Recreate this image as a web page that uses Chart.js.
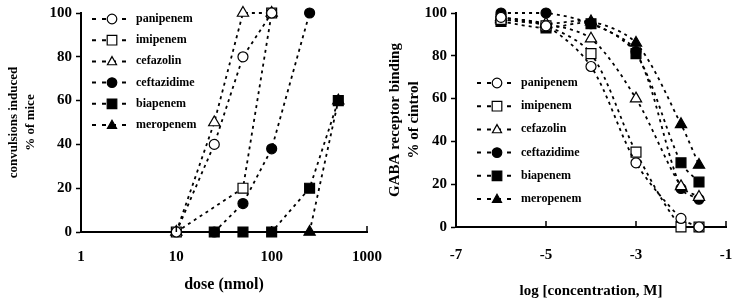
<!DOCTYPE html>
<html lang="en">
<head>
    <meta charset="UTF-8">
    <title>Convulsions and GABA receptor binding</title>
    <script src="https://cdn.jsdelivr.net/npm/chart.js"></script>
    <style>
        body { margin: 0; background: #fff; }
        .wrap { position: relative; width: 735px; height: 302px; }
        #leftBox { position: absolute; left: 0; top: 0; width: 390px; height: 302px; }
        #rightBox { position: absolute; left: 370px; top: 0; width: 365px; height: 302px; }
    </style>
</head>
<body>
<div class="wrap">
    <div id="leftBox"><canvas id="leftChart"></canvas></div>
    <div id="rightBox"><canvas id="rightChart"></canvas></div>
</div>

<script>
    // left panel: dose (nmol) vs % of mice with convulsions
    const seriesNames = ['panipenem', 'imipenem', 'cefazolin', 'ceftazidime', 'biapenem', 'meropenem'];

    const paniDose = [10, 25, 50, 100];
    const paniConv = [0, 40, 80, 100];
    const imiDose = [10, 50, 100];
    const imiConv = [0, 20, 100];
    const cefaDose = [10, 25, 50, 100];
    const cefaConv = [0, 50, 100, 100];
    const ceftDose = [25, 50, 100, 250];
    const ceftConv = [0, 13, 38, 100];
    const biaDose = [25, 50, 100, 250, 500];
    const biaConv = [0, 0, 0, 20, 60];
    const meroDose = [250, 500];
    const meroConv = [0, 60];

    const doseTicks = [1, 10, 100, 1000];

    // right panel: log concentration vs GABA receptor binding (% of control)
    const logConc = [-6, -5, -4, -3, -2, -1.6];
    const paniBind = [98, 94, 75, 30, 4, 0];
    const imiBind = [97, 94, 81, 35, 0, 0];
    const cefaBind = [98, 95, 88, 60, 19, 14];
    const ceftBind = [100, 100, 95, 82, 18, 13];
    const biaBind = [96, 93, 95, 81, 30, 21];
    const meroBind = [97, 95, 96, 86, 48, 29];

    const FONT = '"Liberation Serif", "Times New Roman", serif';

    // marker look for each series, same order as seriesNames
    const markers = [
        { style: 'circle', fill: '#fff', r: 5 },
        { style: 'rect', fill: '#fff', r: 7 },
        { style: 'triangle', fill: '#fff', r: 6.5 },
        { style: 'circle', fill: '#000', r: 5 },
        { style: 'rect', fill: '#000', r: 7 },
        { style: 'triangle', fill: '#000', r: 6.5 }
    ];

    function pairs(xs, ys) {
        return xs.map((x, i) => ({ x: x, y: ys[i] }));
    }

    function makeSets(list, tension) {
        return list.map((pts, i) => ({
            label: seriesNames[i],
            data: pts,
            borderColor: '#000',
            borderWidth: 1.8,
            borderDash: [3, 4],
            pointStyle: markers[i].style,
            pointBackgroundColor: markers[i].fill,
            pointBorderColor: '#000',
            pointBorderWidth: 1.2,
            pointRadius: markers[i].r,
            tension: tension,
            clip: false
        }));
    }

    function drawMarker(ctx, style, fill, x, y, r) {
        ctx.beginPath();
        if (style === 'circle') {
            ctx.arc(x, y, r, 0, Math.PI * 2);
        } else if (style === 'rect') {
            ctx.rect(x - r, y - r, r * 2, r * 2);
        } else {
            ctx.moveTo(x, y - r);
            ctx.lineTo(x + r * 0.95, y + r * 0.7);
            ctx.lineTo(x - r * 0.95, y + r * 0.7);
            ctx.closePath();
        }
        ctx.fillStyle = fill;
        ctx.fill();
        ctx.lineWidth = 1.2;
        ctx.strokeStyle = '#000';
        ctx.stroke();
    }

    // legend drawn inside the plot area
    const boxLegend = {
        id: 'boxLegend',
        afterDatasetsDraw(chart, args, opts) {
            const ctx = chart.ctx;
            ctx.save();
            chart.data.datasets.forEach((ds, i) => {
                const y = opts.top + i * opts.gap;
                ctx.strokeStyle = '#000';
                ctx.lineWidth = 2;
                ctx.setLineDash([4, 6]);
                ctx.beginPath();
                ctx.moveTo(opts.left, y);
                ctx.lineTo(opts.left + 40, y);
                ctx.stroke();
                ctx.setLineDash([]);
                drawMarker(ctx, markers[i].style, markers[i].fill, opts.left + 20, y, 4.8);
                ctx.fillStyle = '#000';
                ctx.font = 'bold 12px ' + FONT;
                ctx.textBaseline = 'middle';
                ctx.fillText(ds.label, opts.left + 44, y);
            });
            ctx.restore();
        }
    };

    // small tick marks pointing up into the plot on the x axis
    const innerTicks = {
        id: 'innerTicks',
        afterDraw(chart) {
            const sx = chart.scales.x;
            const ctx = chart.ctx;
            ctx.save();
            ctx.strokeStyle = '#000';
            ctx.lineWidth = 1.5;
            sx.ticks.forEach(t => {
                const px = sx.getPixelForValue(t.value);
                ctx.beginPath();
                ctx.moveTo(px, sx.top);
                ctx.lineTo(px, sx.top - 6);
                ctx.stroke();
            });
            ctx.restore();
        }
    };

    function yAxis(titleLines, titleSize, titlePad, width) {
        return {
            min: 0,
            max: 100,
            ticks: { stepSize: 20, color: '#000', padding: 4, font: { family: FONT, size: 15, weight: 'bold' } },
            grid: { drawOnChartArea: false, tickLength: 5, tickWidth: 1.5, tickColor: '#000' },
            border: { color: '#000', width: 2 },
            title: {
                display: true,
                text: titleLines,
                color: '#000',
                padding: { top: titlePad, bottom: 4 },
                font: { family: FONT, size: titleSize, weight: 'bold', lineHeight: 1.25 }
            },
            afterFit(scale) { scale.width = width; }
        };
    }

    const leftSets = makeSets([
        pairs(paniDose, paniConv),
        pairs(imiDose, imiConv),
        pairs(cefaDose, cefaConv),
        pairs(ceftDose, ceftConv),
        pairs(biaDose, biaConv),
        pairs(meroDose, meroConv)
    ], 0);

    new Chart(document.getElementById('leftChart'), {
        type: 'line',
        data: { datasets: leftSets },
        plugins: [boxLegend, innerTicks],
        options: {
            responsive: true,
            maintainAspectRatio: false,
            animation: false,
            layout: { padding: { top: 12, right: 23, left: 0, bottom: 0 } },
            plugins: {
                legend: { display: false },
                tooltip: { enabled: false },
                boxLegend: { left: 92, top: 19, gap: 21.2 }
            },
            scales: {
                x: {
                    type: 'logarithmic',
                    min: 1,
                    max: 1000,
                    afterBuildTicks(scale) { scale.ticks = doseTicks.map(v => ({ value: v })); },
                    ticks: {
                        color: '#000',
                        padding: 16,
                        maxRotation: 0,
                        font: { family: FONT, size: 15, weight: 'bold' },
                        callback: v => String(v)
                    },
                    grid: { drawOnChartArea: false, drawTicks: false },
                    border: { color: '#000', width: 2 },
                    title: {
                        display: true,
                        text: 'dose (nmol)',
                        color: '#000',
                        padding: { top: 0, bottom: 8 },
                        font: { family: FONT, size: 16, weight: 'bold' }
                    },
                    afterFit(scale) {
                        scale.height = 70;
                        scale.paddingLeft = 0;
                        scale.paddingRight = 0;
                    }
                },
                y: yAxis(['convulsions induced', '% of mice'], 13, 6, 81)
            }
        }
    });

    const rightSets = makeSets([
        pairs(logConc, paniBind),
        pairs(logConc, imiBind),
        pairs(logConc, cefaBind),
        pairs(logConc, ceftBind),
        pairs(logConc, biaBind),
        pairs(logConc, meroBind)
    ], 0.3);

    new Chart(document.getElementById('rightChart'), {
        type: 'line',
        data: { datasets: rightSets },
        plugins: [boxLegend, innerTicks],
        options: {
            responsive: true,
            maintainAspectRatio: false,
            animation: false,
            layout: { padding: { top: 13, right: 9, left: 0, bottom: 0 } },
            plugins: {
                legend: { display: false },
                tooltip: { enabled: false },
                boxLegend: { left: 107, top: 83, gap: 23.2 }
            },
            scales: {
                x: {
                    type: 'linear',
                    min: -7,
                    max: -1,
                    ticks: {
                        stepSize: 2,
                        color: '#000',
                        padding: 19,
                        maxRotation: 0,
                        font: { family: FONT, size: 15, weight: 'bold' }
                    },
                    grid: { drawOnChartArea: false, drawTicks: false },
                    border: { color: '#000', width: 2 },
                    title: {
                        display: true,
                        text: 'log [concentration, M]',
                        color: '#000',
                        padding: { top: 0, bottom: 2 },
                        font: { family: FONT, size: 15, weight: 'bold' }
                    },
                    afterFit(scale) {
                        scale.height = 75;
                        scale.paddingLeft = 0;
                        scale.paddingRight = 0;
                    }
                },
                y: yAxis(['GABA receptor binding', '% of cintrol'], 15, 16, 86)
            }
        }
    });
</script>
</body>
</html>
